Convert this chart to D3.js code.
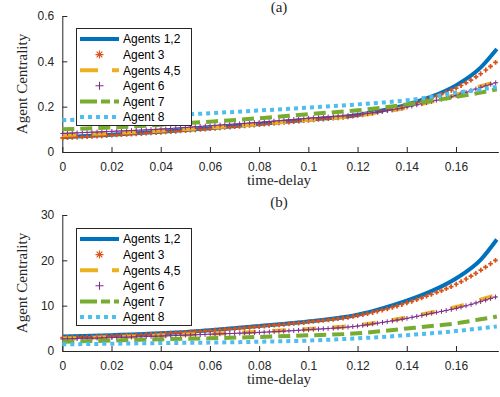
<!DOCTYPE html>
<html>
<head>
<meta charset="utf-8">
<script src="https://cdn.jsdelivr.net/npm/d3@7"></script>
<style>
  html, body { margin: 0; padding: 0; background: #fff; }
  svg { display: block; }
</style>
</head>
<body>
<svg id="chart" width="500" height="397"></svg>
<script>
// Sample time-delays at which centrality was evaluated
const tau = [0, 0.02, 0.04, 0.06, 0.08, 0.10, 0.12, 0.13, 0.14, 0.15, 0.16, 0.17, 0.1766];

// Panel (a)
const a_agents12 = [0.065, 0.076, 0.089, 0.105, 0.123, 0.142, 0.163, 0.183, 0.209, 0.244, 0.294, 0.372, 0.454];
const a_agent3   = [0.062, 0.074, 0.087, 0.103, 0.121, 0.140, 0.161, 0.180, 0.205, 0.238, 0.282, 0.345, 0.400];
const a_agents45 = [0.075, 0.084, 0.095, 0.108, 0.124, 0.142, 0.161, 0.176, 0.196, 0.222, 0.252, 0.290, 0.310];
const a_agent6   = [0.082, 0.091, 0.101, 0.116, 0.131, 0.149, 0.165, 0.179, 0.198, 0.223, 0.249, 0.285, 0.307];
const a_agent7   = [0.100, 0.108, 0.120, 0.134, 0.149, 0.167, 0.184, 0.196, 0.210, 0.226, 0.243, 0.262, 0.277];
const a_agent8   = [0.140, 0.150, 0.160, 0.171, 0.183, 0.196, 0.210, 0.218, 0.228, 0.243, 0.262, 0.276, 0.287];

// Panel (b)
const b_agents12 = [3.20, 3.50, 3.90, 4.60, 5.50, 6.50, 8.00, 9.40, 11.1, 13.2, 16.0, 20.1, 24.6];
const b_agent3   = [2.95, 3.30, 3.80, 4.50, 5.40, 6.40, 7.80, 9.00, 10.6, 12.5, 14.7, 17.8, 20.2];
const b_agents45 = [2.75, 3.05, 3.40, 3.80, 4.25, 4.85, 5.65, 6.45, 7.40, 8.50, 9.70, 11.3, 12.4];
const b_agent6   = [2.65, 2.95, 3.30, 3.70, 4.10, 4.70, 5.50, 6.30, 7.20, 8.30, 9.40, 10.9, 12.0];
const b_agent7   = [2.05, 2.30, 2.60, 2.80, 3.10, 3.45, 3.90, 4.40, 4.95, 5.50, 6.10, 7.00, 7.60];
const b_agent8   = [1.47, 1.60, 1.75, 1.85, 2.05, 2.30, 2.80, 3.10, 3.50, 3.90, 4.40, 5.00, 5.40];

const seriesNames = ["Agents 1,2", "Agent 3", "Agents 4,5", "Agent 6", "Agent 7", "Agent 8"];
const xTicks = [0, 0.02, 0.04, 0.06, 0.08, 0.10, 0.12, 0.14, 0.16];
const xTickLabels = ["0", "0.02", "0.04", "0.06", "0.08", "0.1", "0.12", "0.14", "0.16"];
const aTicks = [0, 0.2, 0.4, 0.6];
const aTickLabels = ["0", "0.2", "0.4", "0.6"];
const bTicks = [0, 10, 20, 30];
const bTickLabels = ["0", "10", "20", "30"];

// Line styles for each agent group
const styles = [
  { color: "#0072BD", width: 4,   dash: null },
  { color: "#D95319", width: 0,   dash: null, marker: "plus", legendMarker: "asterisk" },
  { color: "#EDB120", width: 4,   dash: "14,16" },
  { color: "#7E2F8E", width: 0.8, dash: null, marker: "plus", legendMarker: "plus" },
  { color: "#77AC30", width: 4,   dash: "12,6" },
  { color: "#4DBEEE", width: 4,   dash: "4,4" }
];

const svg = d3.select("#chart");
const axisColor = "#262626";
const sans = "'Liberation Sans', Arial, Helvetica, sans-serif";
const serif = "'Liberation Serif', 'Times New Roman', serif";

function markerPath(kind, r) {
  if (kind === "plus") return `M${-r},0H${r}M0,${-r}V${r}`;
  const d = r * 0.72;
  return `M${-r},0H${r}M0,${-r}V${r}M${-d},${-d}L${d},${d}M${-d},${d}L${d},${-d}`;
}

function drawPanel(cfg) {
  const x = d3.scaleLinear().domain([0, 0.1772]).range([62.3, 498.3]);
  const y = d3.scaleLinear().domain(cfg.yDomain).range([cfg.bottom, cfg.top]);
  const g = svg.append("g");

  // Axes: inward ticks, no box
  const xAxis = d3.axisBottom(x).tickValues(xTicks)
    .tickFormat((d, i) => xTickLabels[i]).tickSizeInner(-5).tickSizeOuter(0).tickPadding(10);
  const gx = g.append("g").attr("transform", `translate(0,${cfg.bottom})`).call(xAxis);
  const yAxis = d3.axisLeft(y).tickValues(cfg.yTicks)
    .tickFormat((d, i) => cfg.yTickLabels[i]).tickSizeInner(-5).tickSizeOuter(0).tickPadding(8);
  const gy = g.append("g").attr("transform", `translate(62.3,0)`).call(yAxis);
  [gx, gy].forEach(ax => {
    ax.select(".domain").attr("stroke", axisColor).attr("stroke-width", 1);
    ax.selectAll(".tick line").attr("stroke", axisColor);
    ax.selectAll(".tick text").attr("fill", axisColor).style("font-family", sans).style("font-size", "12px");
  });

  // Curves
  const line = d3.line().x((d, i) => x(tau[i])).y(d => y(d)).curve(d3.curveMonotoneX);
  const step = x(0.002) - x(0);
  cfg.series.forEach((vals, k) => {
    const st = styles[k];
    const p = g.append("path").datum(vals)
      .attr("d", line)
      .attr("fill", "none")
      .attr("stroke", st.color)
      .attr("stroke-width", st.width || 0.01)
      .attr("stroke-opacity", st.width ? 1 : 0)
      .attr("stroke-dasharray", st.dash);
    if (st.marker) {
      // markers at evenly spaced delays
      const node = p.node();
      const len = node.getTotalLength();
      const pts = [];
      for (let l = 0; l <= len; l += 0.4) pts.push(node.getPointAtLength(l));
      pts.push(node.getPointAtLength(len));
      const bis = d3.bisector(q => q.x).left;
      const x0 = x(tau[0]), x1 = x(tau[tau.length - 1]);
      const mk = [];
      for (let xx = x0; xx <= x1 + 0.01; xx += step) {
        mk.push(pts[Math.min(bis(pts, xx), pts.length - 1)]);
      }
      g.append("g").selectAll("path").data(mk).join("path")
        .attr("transform", q => `translate(${q.x},${q.y})`)
        .attr("d", markerPath("plus", 2.4))
        .attr("fill", "none")
        .attr("stroke", st.color)
        .attr("stroke-width", k === 1 ? 1.7 : 1.0);
    }
  });

  // Axis labels and panel tag
  g.append("text")
    .attr("transform", `translate(27,${(cfg.top + cfg.bottom) / 2}) rotate(-90)`)
    .attr("text-anchor", "middle")
    .style("font-family", serif).style("font-size", "15px").attr("fill", axisColor)
    .text("Agent Centrality");
  g.append("text")
    .attr("x", 279).attr("y", cfg.bottom + 33)
    .attr("text-anchor", "middle")
    .style("font-family", serif).style("font-size", "15px").attr("fill", axisColor)
    .text("time-delay");
  g.append("text")
    .attr("x", 279).attr("y", cfg.tagY)
    .attr("text-anchor", "middle")
    .style("font-family", serif).style("font-size", "15px").attr("fill", axisColor)
    .text(cfg.tag);

  // Legend
  const lg = g.append("g").attr("transform", `translate(76,${cfg.legendTop})`);
  lg.append("rect").attr("x", 0.5).attr("y", 0.5).attr("width", 115).attr("height", 97)
    .attr("fill", "#fff").attr("stroke", axisColor).attr("stroke-width", 1);
  seriesNames.forEach((name, k) => {
    const st = styles[k];
    const yy = 11 + k * 15.6;
    if (st.width && st.width > 1) {
      lg.append("line").attr("x1", 4).attr("x2", 43).attr("y1", yy).attr("y2", yy)
        .attr("stroke", st.color).attr("stroke-width", st.width)
        .attr("stroke-dasharray", k === 2 ? "18,14" : (k === 4 ? "17,4,9,4" : st.dash));
    } else {
      lg.append("path").attr("transform", `translate(23.5,${yy})`)
        .attr("d", markerPath(st.legendMarker, 4))
        .attr("fill", "none").attr("stroke", st.color).attr("stroke-width", 1.1);
    }
    lg.append("text").attr("x", 47).attr("y", yy + 4.3)
      .style("font-family", sans).style("font-size", "12px").attr("fill", "#000")
      .text(name);
  });
}

drawPanel({
  top: 16, bottom: 152, yDomain: [0, 0.6], yTicks: aTicks, yTickLabels: aTickLabels,
  series: [a_agents12, a_agent3, a_agents45, a_agent6, a_agent7, a_agent8],
  tag: "(a)", tagY: 12, legendTop: 28
});
drawPanel({
  top: 215, bottom: 351, yDomain: [0, 30], yTicks: bTicks, yTickLabels: bTickLabels,
  series: [b_agents12, b_agent3, b_agents45, b_agent6, b_agent7, b_agent8],
  tag: "(b)", tagY: 207, legendTop: 228
});
</script>
</body>
</html>
